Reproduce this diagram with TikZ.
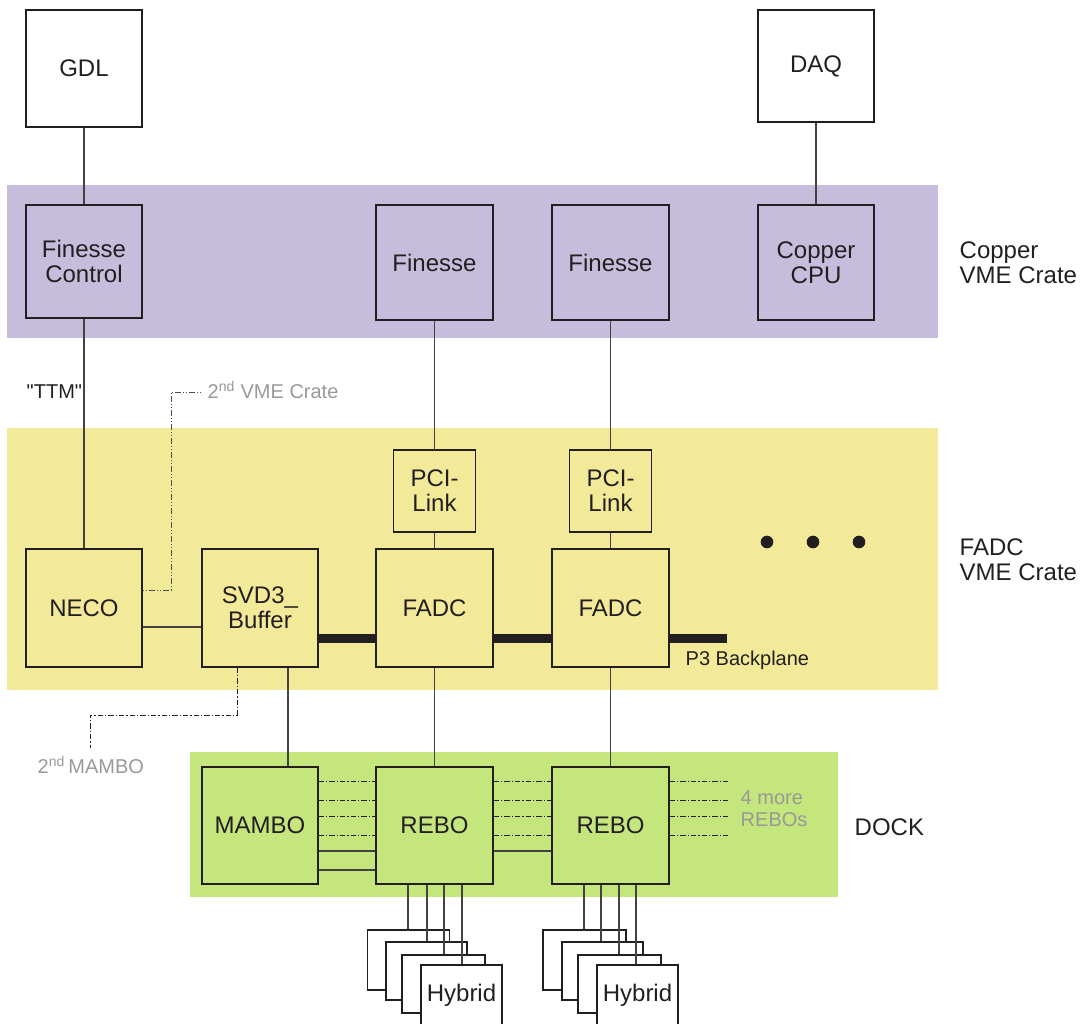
\documentclass[tikz,border=0pt]{standalone}
\usepackage{fontspec}
\setmainfont{Liberation Sans}[Ligatures=TeXOff]
\usetikzlibrary{calc}
\definecolor{ink}{HTML}{231F20}
\definecolor{lav}{HTML}{C6BDDC}
\definecolor{yel}{HTML}{F3EA99}
\definecolor{grn}{HTML}{C5E57D}
\definecolor{gtxt}{HTML}{999999}
\tikzset{
  box/.style={draw=ink, line width=0.9pt, inner sep=0pt, align=center, text=ink,
    font=\fontsize{18}{18.75}\selectfont},
  wire/.style={draw=ink!85, line width=0.9pt},
  dd/.style={draw=ink, line width=0.7pt, dash pattern=on 4pt off 1.5pt on 1pt off 1.5pt},
  ddg/.style={draw=ink!80, line width=0.7pt, dash pattern=on 1pt off 1.5pt on 1pt off 1.5pt on 4pt off 1.5pt},
  bp/.style={draw=ink, line width=6.75pt},
  big/.style={text=ink, align=left, anchor=west, font=\fontsize{18}{18.75}\selectfont},
  small/.style={text=ink, anchor=west, font=\fontsize{15}{16.5}\selectfont},
  grey/.style={text=gtxt, anchor=west, align=left, font=\fontsize{15}{16.5}\selectfont},
  hyb/.style={draw=ink, line width=0.9pt, fill=white, inner sep=0pt, text=ink,
    minimum width=61.5pt, minimum height=45pt, font=\fontsize{18}{18.75}\selectfont},
  dot/.style={circle, fill=ink, inner sep=0pt, minimum size=9.5pt}
}
\begin{document}
\begin{tikzpicture}[x=0.75pt, y=-0.75pt]
\useasboundingbox (0,0) rectangle (1080,1023);
% bands
\fill[lav] (7,185) rectangle (938,338);
\fill[yel] (7,428) rectangle (938,690);
\fill[grn] (190,752) rectangle (838,897);

% top boxes
\node[box, minimum width=87pt, minimum height=87.75pt] (gdl) at (84,68.5) {GDL};
\node[box, minimum width=87pt, minimum height=84pt] (daq) at (816,66) {DAQ};
% copper crate
\node[box, minimum width=87pt, minimum height=84.75pt] (fc) at (84,261.5) {Finesse\\Control};
\node[box, minimum width=87.75pt, minimum height=86.25pt] (fin1) at (434.5,262.5) {Finesse};
\node[box, minimum width=87.75pt, minimum height=86.25pt] (fin2) at (610.5,262.5) {Finesse};
\node[box, minimum width=87pt, minimum height=86.25pt] (cpu) at (816,262.5) {Copper\\CPU};
% FADC crate
\node[box, minimum width=61.5pt, minimum height=61.5pt] (pci1) at (434.5,491) {PCI-\\Link};
\node[box, minimum width=61.5pt, minimum height=61.5pt] (pci2) at (610.5,491) {PCI-\\Link};
\node[box, minimum width=87pt, minimum height=88.5pt] (neco) at (84,608) {NECO};
\node[box, minimum width=87pt, minimum height=88.5pt] (svd) at (260,608) {SVD3\_\\Buffer};
\node[box, minimum width=87.75pt, minimum height=88.5pt] (fadc1) at (434.5,608) {FADC};
\node[box, minimum width=87.75pt, minimum height=88.5pt] (fadc2) at (610.5,608) {FADC};
\node[dot] (d1) at (767,542) {};
\node[dot] (d2) at (813,542) {};
\node[dot] (d3) at (859,542) {};
% dock
\node[box, minimum width=87pt, minimum height=87.75pt] (mambo) at (260,825.5) {MAMBO};
\node[box, minimum width=87.75pt, minimum height=87.75pt] (rebo1) at (434.5,825.5) {REBO};
\node[box, minimum width=87.75pt, minimum height=87.75pt] (rebo2) at (610.5,825.5) {REBO};

% side labels
\node[big] (lcop) at (955,262.5) {Copper\\VME Crate};
\node[big] (lfadc) at (955,559.5) {FADC\\VME Crate};
\node[big] (ldock) at (850,827) {DOCK};
\node[small] (lttm) at (22,392) {"TTM"};
\node[small] (lp3) at (681,660) {P3 Backplane};
\node[grey] (l2vme) at (203,390) {2\textsuperscript{nd} VME Crate};
\node[grey] (l2mam) at (33,765) {2\textsuperscript{nd}\,MAMBO};
\node[grey] (lmore) at (736,809) {4 more\\REBOs};

% vertical wires
\draw[wire] (gdl) -- (fc);
\draw[wire] (fc) -- (neco);
\draw[wire] (daq) -- (cpu);
\draw[wire] (fin1) -- (pci1);
\draw[wire] (pci1) -- (fadc1);
\draw[wire] (fadc1) -- (rebo1);
\draw[wire] (fin2) -- (pci2);
\draw[wire] (pci2) -- (fadc2);
\draw[wire] (fadc2) -- (rebo2);
\coordinate (x288) at (288,0);
\draw[wire] (svd.south -| x288) -- (mambo.north -| x288);
\coordinate (y627) at (0,627);
\draw[wire] (neco.east |- y627) -- (svd.west |- y627);

% backplane
\coordinate (y638) at (0,638);
\coordinate (bpend) at (727,638);
\draw[bp] (svd.east |- y638) -- (fadc1.west |- y638);
\draw[bp] (fadc1.east |- y638) -- (fadc2.west |- y638);
\draw[bp] (fadc2.east |- y638) -- (bpend);

% 2nd VME crate
\coordinate (y590) at (0,590);
\coordinate (v1) at (171,590);
\coordinate (v2) at (171,392);
\coordinate (v3) at (201,392);
\draw[ddg] (neco.east |- y590) -- (v1) -- (v2) -- (v3);
% 2nd MAMBO
\coordinate (x237) at (237,0);
\coordinate (m1) at (237,715);
\coordinate (m2) at (90,715);
\coordinate (m3) at (90,748);
\draw[dd] (svd.south -| x237) -- (m1) -- (m2) -- (m3);

% dock links
\foreach \yy in {781,800,816,835}{
  \coordinate (yy) at (0,\yy);
  \coordinate (ee) at (728,\yy);
  \draw[dd] (mambo.east |- yy) -- (rebo1.west |- yy);
  \draw[dd] (rebo1.east |- yy) -- (rebo2.west |- yy);
  \draw[dd] (rebo2.east |- yy) -- (ee);
}
\coordinate (y851) at (0,851);
\coordinate (y870) at (0,870);
\draw[wire] (mambo.east |- y851) -- (rebo1.west |- y851);
\draw[wire] (mambo.east |- y870) -- (rebo1.west |- y870);
\draw[wire] (rebo1.east |- y851) -- (rebo2.west |- y851);

% hybrids under REBO 1
\node[hyb, minimum height=45pt] (h11) at (408.5,960) {};
\node[hyb, minimum width=60.75pt, minimum height=43.5pt] (h12) at (426.5,971) {};
\node[hyb, minimum width=62.25pt, minimum height=43.5pt] (h13) at (443.5,984) {};
\node[hyb, minimum width=60.75pt, minimum height=45pt] (h14) at (461.5,995) {Hybrid};
\foreach \xx/\hh in {408/h11,427/h12,444/h13,462/h14}{
  \coordinate (xx) at (\xx,0);
  \draw[wire] (rebo1.south -| xx) -- (\hh.north -| xx);
}
% hybrids under REBO 2
\node[hyb, minimum width=62.25pt, minimum height=45pt] (h21) at (584.5,960) {};
\node[hyb, minimum width=60.75pt, minimum height=43.5pt] (h22) at (602.5,971) {};
\node[hyb, minimum width=62.25pt, minimum height=43.5pt] (h23) at (619.5,984) {};
\node[hyb, minimum width=60.75pt, minimum height=45pt] (h24) at (637.5,995) {Hybrid};
\foreach \xx/\hh in {584/h21,601/h22,619/h23,636/h24}{
  \coordinate (xx) at (\xx,0);
  \draw[wire] (rebo2.south -| xx) -- (\hh.north -| xx);
}
\end{tikzpicture}
\end{document}
